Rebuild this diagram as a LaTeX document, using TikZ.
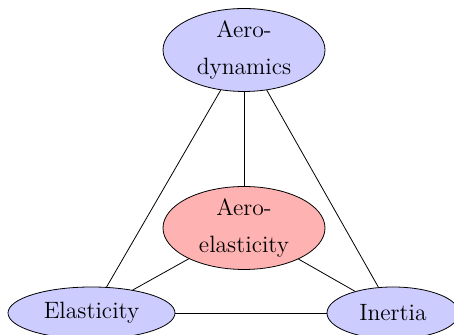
\documentclass[tikz,border=0pt]{standalone}
\usetikzlibrary{shapes.geometric}
\begin{document}
\begin{tikzpicture}[x=0.5pt,y=0.5pt,
  topic/.style={ellipse,draw,inner sep=0pt,align=center,
    font=\fontsize{11.8}{18.5}\selectfont},
  bluetopic/.style={topic,fill=blue!20},
  redtopic/.style={topic,fill=red!30}]
\useasboundingbox (0,0) rectangle (454,335);
\node[bluetopic,minimum width=81pt,minimum height=40pt] (aero) at (244,285) {Aero-\\dynamics};
\node[redtopic,minimum width=81pt,minimum height=38pt] (ael) at (244,107) {Aero-\\elasticity};
\node[bluetopic,minimum width=83.5pt,minimum height=26pt] (ela) at (91.5,22) {Elasticity};
\node[bluetopic,minimum width=66pt,minimum height=26pt] (ine) at (393,22) {Inertia};
\draw (aero) -- (ela);
\draw (aero) -- (ine);
\draw (aero) -- (ael);
\draw (ael) -- (ela);
\draw (ael) -- (ine);
\draw (ela) -- (ine);
\end{tikzpicture}
\end{document}
